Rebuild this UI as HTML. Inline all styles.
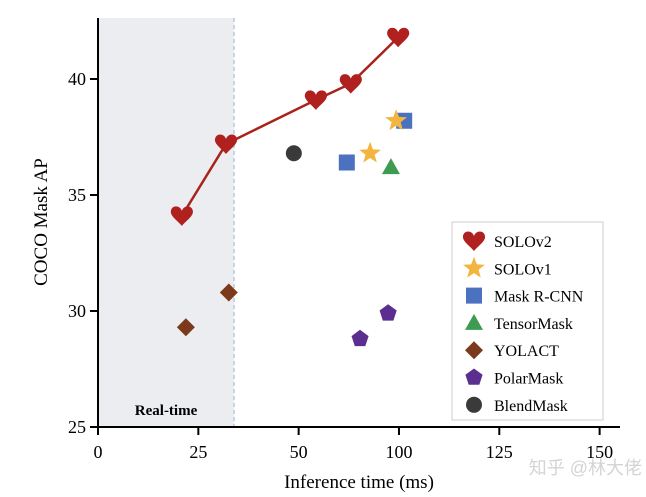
<!DOCTYPE html>
<html><head><meta charset="utf-8"><style>
html,body{margin:0;padding:0;background:#fff;}
svg{display:block;font-family:"Liberation Serif",serif;}
</style></head><body>
<svg id="chart" width="646" height="497"></svg>
<script>
const tickVals=[0,25,50,75,100,125];
const tickLabels=["0","25","50","100","125","150"];
const yTicks=[25,30,35,40];
const realtime=33.9;
const solov2X=[20.9,31.9,54.3,63.0,74.8], solov2Y=[34.1,37.2,39.1,39.8,41.8];
const solov1X=[67.8,74.3], solov1Y=[36.8,38.2];
const maskX=[62.0,76.3], maskY=[36.4,38.2];
const tensorX=[73.0], tensorY=[36.2];
const yolactX=[21.9,32.6], yolactY=[29.3,30.8];
const polarX=[65.3,72.3], polarY=[28.8,29.9];
const blendX=[48.8], blendY=[36.8];
const names=["SOLOv2","SOLOv1","Mask R-CNN","TensorMask","YOLACT","PolarMask","BlendMask"];

const NS="http://www.w3.org/2000/svg";
const svg=document.getElementById('chart');
const X=v=>98+v*4.013, Y=v=>427-(v-25)*23.2;
function mk(t,a,p){const e=document.createElementNS(NS,t);for(const k in a)e.setAttribute(k,a[k]);(p||svg).appendChild(e);return e;}
function shape(kind,cx,cy,s,p){
  let e;
  if(kind==='heart'){e=mk('path',{d:`M${cx},${cy+10} C${cx-4},${cy+5} ${cx-12},${cy} ${cx-11},${cy-5} C${cx-10},${cy-11} ${cx-2},${cy-11} ${cx},${cy-5} C${cx+2},${cy-11} ${cx+10},${cy-11} ${cx+11},${cy-5} C${cx+12},${cy} ${cx+4},${cy+5} ${cx},${cy+10}Z`,fill:'#b0201f'},p);}
  else if(kind==='star'){let d='';for(let i=0;i<10;i++){const r=i%2?4.8:11.5,a=-Math.PI/2+i*Math.PI/5;d+=(i?'L':'M')+(cx+r*Math.cos(a)).toFixed(1)+','+(cy+r*Math.sin(a)).toFixed(1);}e=mk('path',{d:d+'Z',fill:'#f2b53f'},p);}
  else if(kind==='square'){e=mk('rect',{x:cx-8,y:cy-8,width:16,height:16,fill:'#4a72be'},p);}
  else if(kind==='tri'){e=mk('path',{d:`M${cx},${cy-9}L${cx+9},${cy+7}L${cx-9},${cy+7}Z`,fill:'#3e9b52'},p);}
  else if(kind==='diamond'){e=mk('path',{d:`M${cx},${cy-9}L${cx+9},${cy}L${cx},${cy+9}L${cx-9},${cy}Z`,fill:'#7a3a1b'},p);}
  else if(kind==='pent'){let d='';for(let i=0;i<5;i++){const a=-Math.PI/2+i*2*Math.PI/5;d+=(i?'L':'M')+(cx+9*Math.cos(a)).toFixed(1)+','+(cy+9*Math.sin(a)).toFixed(1);}e=mk('path',{d:d+'Z',fill:'#5b2f8f'},p);}
  else {e=mk('circle',{cx:cx,cy:cy,r:8,fill:'#3a3a3a'},p);}
  return e;
}
let r=mk('rect',{x:98,y:18,width:X(realtime)-98,height:409,fill:'#ebedf0'});

let dl=mk('line',{x1:X(realtime),x2:X(realtime),y1:18,y2:427,stroke:'#a9bedf','stroke-width':1.2,'stroke-dasharray':'4,3'});

let rt=mk('text',{x:(98+X(realtime))/2,y:415,'text-anchor':'middle','font-size':15,'font-weight':'bold'});rt.textContent='Real-time';

let ax=mk('line',{x1:98,x2:620,y1:427,y2:427,stroke:'#000','stroke-width':2});

let ay=mk('line',{x1:98,x2:98,y1:18,y2:428,stroke:'#000','stroke-width':2});

tickVals.forEach((v,i)=>{
  mk('line',{x1:X(v),x2:X(v),y1:427,y2:435,stroke:'#000','stroke-width':2});
  const t=mk('text',{x:X(v),y:458,'text-anchor':'middle','font-size':18});t.textContent=tickLabels[i];
  
});
yTicks.forEach(v=>{
  mk('line',{x1:90,x2:98,y1:Y(v),y2:Y(v),stroke:'#000','stroke-width':2});
  const t=mk('text',{x:86,y:Y(v)+6,'text-anchor':'end','font-size':18});t.textContent=v;
  
});
let xt=mk('text',{x:359,y:488,'text-anchor':'middle','font-size':19});xt.textContent='Inference time (ms)';

let yt=mk('text',{x:0,y:0,'text-anchor':'middle','font-size':19,transform:'translate(47,222) rotate(-90)'});yt.textContent='COCO Mask AP';

let pl=mk('polyline',{points:solov2X.map((x,i)=>X(x)+','+Y(solov2Y[i])).join(' '),fill:'none',stroke:'#a8231c','stroke-width':2.5});

const series=[['heart',solov2X,solov2Y,'solov2-point'],['star',solov1X,solov1Y,'solov1-point'],['square',maskX,maskY,'mask-rcnn-point'],['tri',tensorX,tensorY,'tensormask-point'],['diamond',yolactX,yolactY,'yolact-point'],['pent',polarX,polarY,'polarmask-point'],['circle',blendX,blendY,'blendmask-point']];
[6,5,4,3,2,1,0].forEach(k=>{const s=series[k];s[1].forEach((x,i)=>{const e=shape(s[0],X(x),Y(s[2][i]));
  
  });});
let lg=mk('g',{});
mk('rect',{x:452,y:222,width:151,height:198,fill:'#fff',stroke:'#ccc','stroke-width':1},lg);
names.forEach((n,i)=>{
  const y=241+i*27.3;
  const g=mk('g',{},lg);
  
  
  shape(series[i][0],474,y,0,g);
  const t=mk('text',{x:494,y:y+6,'font-size':16},g);t.textContent=n;
});
let wm=mk('text',{x:642,y:474,'text-anchor':'end','font-size':18,fill:'#d4d4d4','font-family':'"Liberation Sans","Noto Sans CJK SC",sans-serif'});wm.textContent='知乎 @林大佬';

</script>
</body></html>
